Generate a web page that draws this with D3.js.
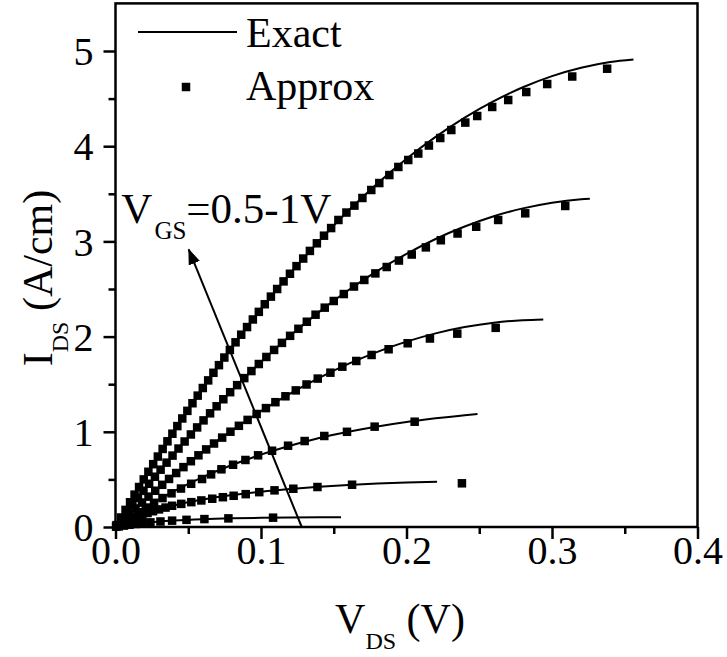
<!DOCTYPE html>
<html><head><meta charset="utf-8">
<script src="https://cdn.jsdelivr.net/npm/d3@7"></script>
<style>
body{margin:0;background:#fff}
svg{display:block}
</style>
</head><body>
<svg id="c" width="727" height="657" font-family="'Liberation Serif', 'Times New Roman', Times, serif"></svg>
<script>
// ---- axis ticks ----
const xTicks = [0, 0.1, 0.2, 0.3, 0.4];
const xMinor = [0.05, 0.15, 0.25, 0.35];
const yTicks = [0, 1, 2, 3, 4, 5];
const yMinor = [0.5, 1.5, 2.5, 3.5, 4.5];

// ---- legend / annotation text ----
const legendNames = ["Exact", "Approx"];
const vgsText = ["V", "GS", "=0.5-1V"];

// ---- exact curves [VDS (V), IDS (A/cm)] for VGS = 0.5 ... 1.0 V ----
const exact05 = [[0,0],[0.01,0.0241],[0.02,0.0426],[0.03,0.0568],[0.04,0.0677],[0.06,0.0826],[0.08,0.0913],[0.10,0.0965],[0.12,0.0996],[0.14,0.1014],[0.155,0.1022]];
const exact06 = [[0,0],[0.01,0.0762],[0.02,0.1365],[0.04,0.2257],[0.06,0.2886],[0.08,0.3353],[0.10,0.3713],[0.12,0.400],[0.14,0.4234],[0.16,0.442],[0.18,0.457],[0.20,0.468],[0.221,0.476]];
const exact07 = [[0,0],[0.02,0.202],[0.04,0.375],[0.06,0.524],[0.08,0.651],[0.10,0.760],[0.12,0.853],[0.14,0.934],[0.16,1.000],[0.18,1.056],[0.20,1.103],[0.22,1.142],[0.24,1.175],[0.2488,1.187]];
const exact08 = [[0,0],[0.02,0.282],[0.04,0.545],[0.06,0.788],[0.08,1.012],[0.10,1.217],[0.12,1.402],[0.14,1.567],[0.16,1.713],[0.18,1.840],[0.20,1.947],[0.22,2.034],[0.24,2.100],[0.26,2.146],[0.28,2.172],[0.294,2.180]];
const exact09 = [[0,0],[0.02,0.395],[0.04,0.765],[0.06,1.112],[0.08,1.435],[0.10,1.733],[0.12,2.008],[0.14,2.260],[0.16,2.487],[0.18,2.690],[0.20,2.869],[0.22,3.025],[0.24,3.156],[0.26,3.264],[0.28,3.347],[0.30,3.407],[0.32,3.443],[0.326,3.449]];
const exact10 = [[0,0],[0.02,0.515],[0.04,1.001],[0.06,1.459],[0.08,1.889],[0.10,2.290],[0.12,2.662],[0.14,3.006],[0.16,3.322],[0.18,3.609],[0.20,3.868],[0.22,4.098],[0.24,4.301],[0.26,4.474],[0.28,4.619],[0.30,4.736],[0.32,4.824],[0.34,4.884],[0.356,4.911]];

// ---- approximate model points ----
const approx05 = [[0.0023,0.0062],[0.0058,0.0147],[0.0096,0.0232],[0.0138,0.0317],[0.0186,0.0402],[0.024,0.0487],[0.0309,0.0579],[0.0389,0.0666],[0.0488,0.0752],[0.0611,0.0832],[0.0776,0.0905],[0.1083,0.098]];
const approx06 = [[0.0017,0.014],[0.004,0.033],[0.0066,0.052],[0.0092,0.071],[0.0121,0.09],[0.0152,0.109],[0.0185,0.128],[0.022,0.147],[0.0258,0.166],[0.0299,0.185],[0.0344,0.204],[0.0389,0.223],[0.0452,0.243],[0.0521,0.261],[0.059,0.279],[0.0665,0.297],[0.0738,0.313],[0.0812,0.328],[0.0895,0.345],[0.0988,0.366],[0.1093,0.385],[0.1222,0.402],[0.1388,0.42],[0.1626,0.444],[0.2381,0.459]];
const approx07 = [[0.0004,0.004],[0.0053,0.054],[0.0102,0.104],[0.0155,0.154],[0.0208,0.204],[0.0265,0.254],[0.0323,0.304],[0.0385,0.354],[0.045,0.404],[0.052,0.454],[0.0595,0.504],[0.0657,0.553],[0.0728,0.606],[0.0808,0.654],[0.0893,0.704],[0.098,0.753],[0.1076,0.801],[0.1186,0.854],[0.13,0.903],[0.1435,0.956],[0.1591,1.0],[0.1781,1.054],[0.2056,1.106]];
const approx08 = [[0.0006,0.009],[0.0049,0.071],[0.0092,0.133],[0.0137,0.195],[0.0182,0.257],[0.0227,0.319],[0.0273,0.381],[0.0321,0.443],[0.0368,0.505],[0.0417,0.567],[0.0467,0.629],[0.0518,0.691],[0.057,0.753],[0.0623,0.815],[0.0677,0.877],[0.0733,0.939],[0.079,1.001],[0.0848,1.063],[0.0908,1.125],[0.097,1.187],[0.1034,1.249],[0.1099,1.311],[0.1168,1.373],[0.1239,1.435],[0.1313,1.497],[0.139,1.559],[0.1477,1.621],[0.1559,1.684],[0.1655,1.744],[0.176,1.807],[0.1877,1.867],[0.2008,1.930],[0.2161,1.980],[0.2349,2.031],[0.2613,2.092]];
const approx09 = [[0.0005,0.01],[0.0041,0.084],[0.0079,0.158],[0.0116,0.232],[0.0154,0.306],[0.0192,0.38],[0.0231,0.454],[0.0271,0.528],[0.031,0.602],[0.0351,0.676],[0.0392,0.75],[0.0433,0.824],[0.0475,0.898],[0.0518,0.972],[0.0561,1.046],[0.0605,1.12],[0.065,1.194],[0.0695,1.268],[0.0741,1.342],[0.0788,1.416],[0.0836,1.49],[0.0885,1.564],[0.0934,1.638],[0.0985,1.712],[0.1037,1.786],[0.109,1.86],[0.1144,1.934],[0.12,2.008],[0.1257,2.082],[0.1315,2.156],[0.1375,2.23],[0.1438,2.304],[0.15,2.374],[0.1569,2.447],[0.1639,2.526],[0.171,2.595],[0.1786,2.664],[0.1864,2.731],[0.1948,2.799],[0.2036,2.862],[0.2133,2.937],[0.2236,3.012],[0.2351,3.083],[0.2479,3.154],[0.263,3.225],[0.2816,3.295],[0.3091,3.372]];
const approx10 = [[0.0008,0.02],[0.0038,0.10],[0.0069,0.18],[0.0100,0.26],[0.0131,0.34],[0.0162,0.42],[0.0194,0.50],[0.0226,0.58],[0.0259,0.66],[0.0291,0.74],[0.0324,0.82],[0.0357,0.90],[0.0391,0.98],[0.0425,1.06],[0.0459,1.14],[0.0494,1.22],[0.0529,1.30],[0.0565,1.38],[0.0600,1.46],[0.0637,1.54],[0.0673,1.62],[0.0711,1.70],[0.0748,1.78],[0.0786,1.86],[0.0825,1.94],[0.0864,2.02],[0.0904,2.10],[0.0944,2.18],[0.0985,2.26],[0.1026,2.34],[0.1068,2.42],[0.1111,2.50],[0.1155,2.58],[0.1199,2.66],[0.1244,2.74],[0.1290,2.82],[0.1336,2.90],[0.1384,2.98],[0.1433,3.06],[0.1482,3.14],[0.1532,3.225],[0.1587,3.303],[0.1642,3.376],[0.1697,3.456],[0.1758,3.540],[0.1813,3.613],[0.1882,3.697],[0.1944,3.782],[0.2012,3.855],[0.2081,3.923],[0.2154,4.007],[0.2232,4.086],[0.2308,4.170],[0.2404,4.248],[0.2486,4.317],[0.2589,4.412],[0.2699,4.485],[0.2823,4.569],[0.2967,4.653],[0.3139,4.732],[0.3379,4.814]];

// ---- arrow (VGS increasing) ----
const arrowVds = [0.128, 0.0503];
const arrowIds = [0.0, 2.917];
const labelPos = [0.004, 3.19];

const exactCurves = [exact05, exact06, exact07, exact08, exact09, exact10];
const approxCurves = [approx05, approx06, approx07, approx08, approx09, approx10];

const FONT = "'Liberation Serif', 'Times New Roman', Times, serif";

// ---- layout ----
const L = 115.5, R = 697.5, T = 3.4, B = 527;
const svg = d3.select("#c");
const x = d3.scaleLinear().domain([0, 0.4]).range([L, R]);
const y = d3.scaleLinear().domain([0, 5.5]).range([B, T]);

// frame
svg.append("rect").attr("x", L).attr("y", T).attr("width", R - L).attr("height", B - T)
  .attr("fill", "none").attr("stroke", "#000").attr("stroke-width", 2.5);

// x axis
const gx = svg.append("g").attr("transform", `translate(0,${B})`);
gx.call(d3.axisBottom(x).tickValues(xTicks).tickFormat(d3.format(".1f")).tickSize(12).tickSizeOuter(0));
gx.append("g").call(d3.axisBottom(x).tickValues(xMinor).tickFormat("").tickSize(7).tickSizeOuter(0));
gx.selectAll(".tick line").attr("stroke-width", 2.5);
gx.selectAll(".tick text").attr("font-size", 40).attr("y", 37).attr("dy", 0);

// y axis
const gy = svg.append("g").attr("transform", `translate(${L},0)`);
gy.call(d3.axisLeft(y).tickValues(yTicks).tickFormat(d3.format("d")).tickSize(12).tickSizeOuter(0));
gy.append("g").call(d3.axisLeft(y).tickValues(yMinor).tickFormat("").tickSize(7).tickSizeOuter(0));
gy.selectAll(".tick line").attr("stroke-width", 2.5);
gy.selectAll(".tick text").attr("font-size", 40).attr("x", -22).attr("dy", "0.34em");
svg.selectAll(".domain").remove();
svg.selectAll("g").attr("font-family", FONT);

// exact lines
const line = d3.line().x(d => x(d[0])).y(d => y(d[1])).curve(d3.curveMonotoneX);
svg.append("g").selectAll("path").data(exactCurves).join("path")
  .attr("d", line).attr("fill", "none").attr("stroke", "#000").attr("stroke-width", 2);

// approx markers
const ms = 8.5;
svg.append("g").selectAll("g").data(approxCurves).join("g")
  .selectAll("rect").data(d => d).join("rect")
  .attr("x", d => x(d[0]) - ms / 2).attr("y", d => y(d[1]) - ms / 2)
  .attr("width", ms).attr("height", ms).attr("fill", "#000");

// arrow
const defs = svg.append("defs");
defs.append("marker").attr("id", "ah").attr("markerUnits", "userSpaceOnUse")
  .attr("markerWidth", 16).attr("markerHeight", 12).attr("refX", 15).attr("refY", 6)
  .attr("orient", "auto")
  .append("path").attr("d", "M0,0 L16,6 L0,12 Z").attr("fill", "#000");
svg.append("line")
  .attr("x1", x(arrowVds[0])).attr("y1", y(arrowIds[0]))
  .attr("x2", x(arrowVds[1])).attr("y2", y(arrowIds[1]))
  .attr("stroke", "#000").attr("stroke-width", 2).attr("marker-end", "url(#ah)");

// VGS label
const vt = svg.append("text").attr("x", x(labelPos[0])).attr("y", y(labelPos[1])).attr("font-size", 43);
vt.append("tspan").text(vgsText[0]);
vt.append("tspan").attr("dx", 2).attr("dy", 16).attr("font-size", 25).text(vgsText[1]);
vt.append("tspan").attr("dy", -16).text(vgsText[2]);

// legend
svg.append("line").attr("x1", 138).attr("x2", 237).attr("y1", 32).attr("y2", 32)
  .attr("stroke", "#000").attr("stroke-width", 2);
svg.append("text").attr("x", 246).attr("y", 47).attr("font-size", 42).text(legendNames[0]);
svg.append("rect").attr("x", 186 - ms / 2).attr("y", 87 - ms / 2).attr("width", ms).attr("height", ms).attr("fill", "#000");
svg.append("text").attr("x", 246).attr("y", 100).attr("font-size", 42).text(legendNames[1]);

// axis titles
const xt = svg.append("text").attr("x", 400).attr("y", 633).attr("font-size", 42).attr("text-anchor", "middle");
xt.append("tspan").text("V");
xt.append("tspan").attr("dy", 16).attr("font-size", 24).text("DS");
xt.append("tspan").attr("dy", -16).text(" (V)");

const yt = svg.append("text").attr("transform", "translate(52,278) rotate(-90)")
  .attr("font-size", 42).attr("text-anchor", "middle");
yt.append("tspan").text("I");
yt.append("tspan").attr("dy", 16).attr("font-size", 24).text("DS");
yt.append("tspan").attr("dy", -16).text(" (A/cm)");

svg.selectAll("text").style("font-family", FONT).attr("fill", "#000");
</script>
</body></html>
